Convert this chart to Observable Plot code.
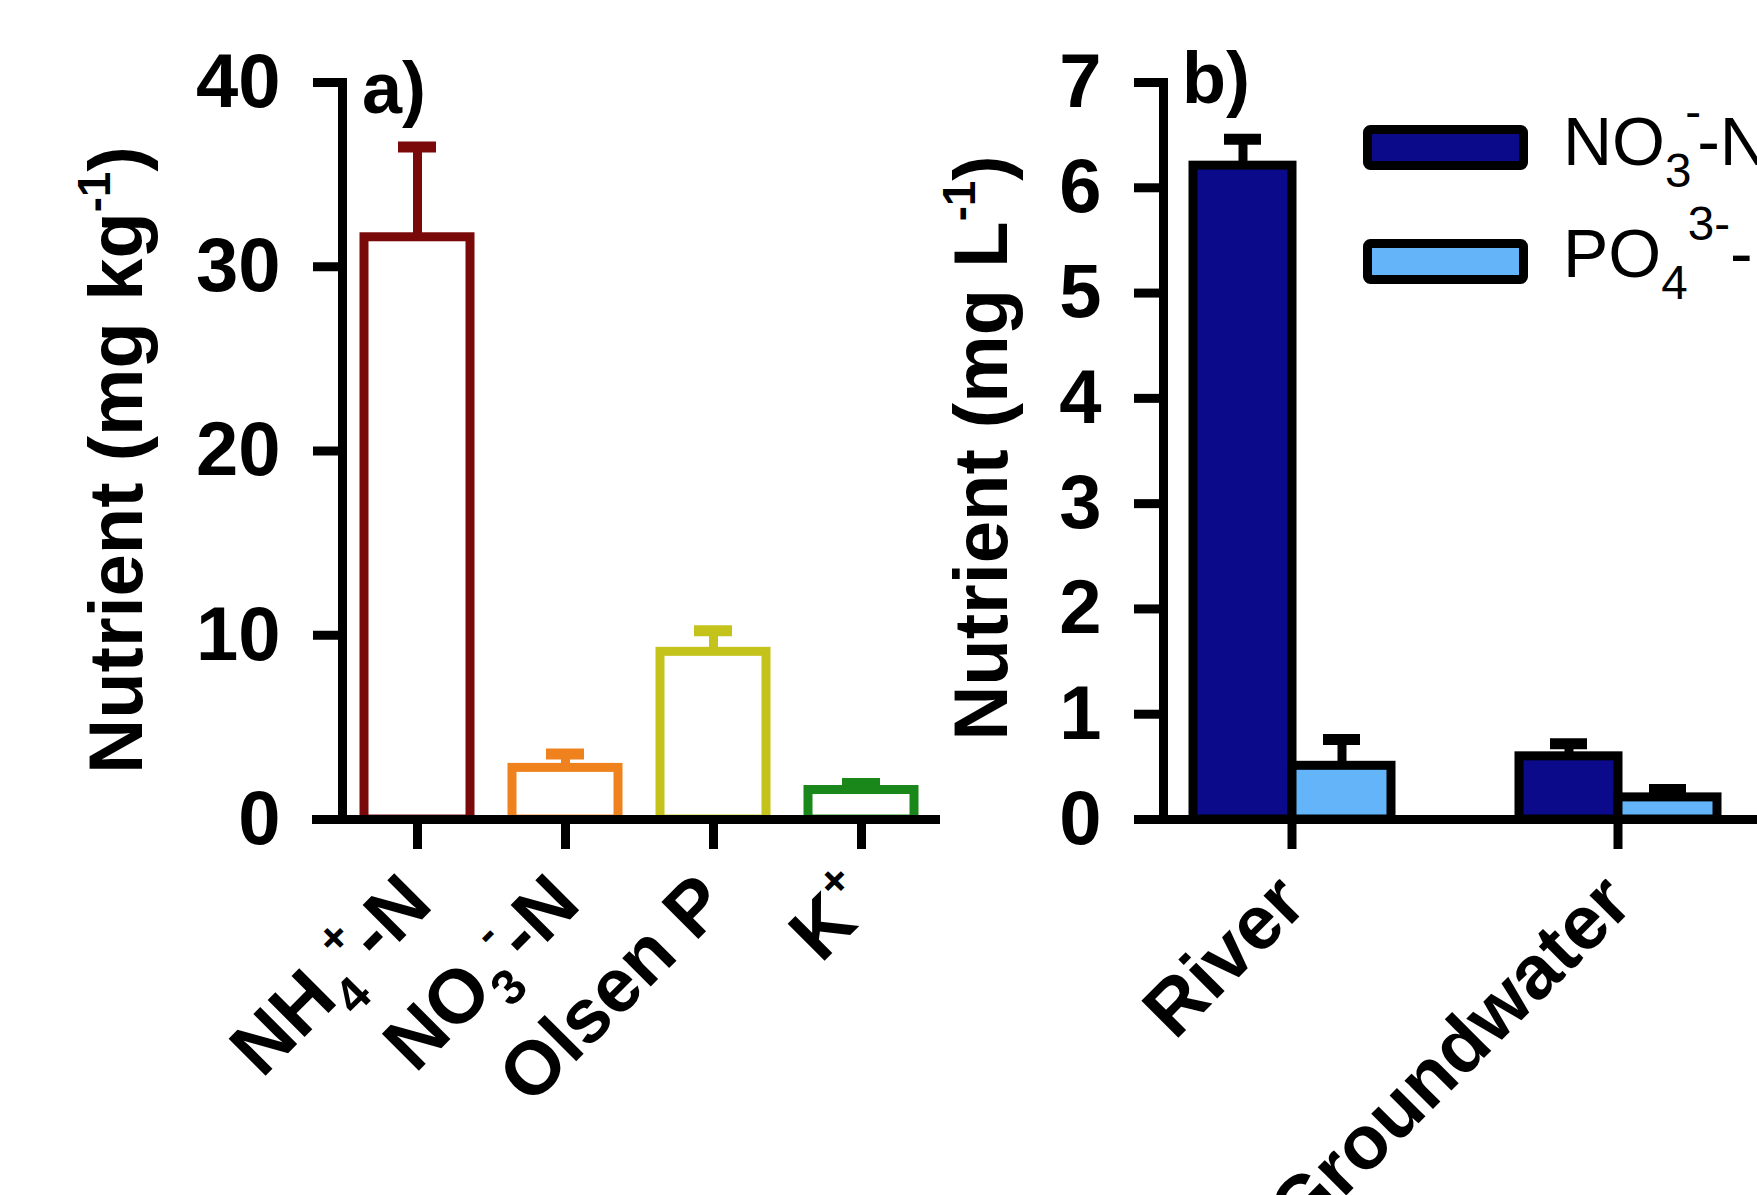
<!DOCTYPE html>
<html>
<head>
<meta charset="utf-8">
<script src="https://cdn.jsdelivr.net/npm/d3@7"></script>
<script src="https://cdn.jsdelivr.net/npm/@observablehq/plot@0.6"></script>
<style>
  html, body { margin: 0; padding: 0; background: #fff; overflow: hidden; }
  #wrap { position: relative; width: 1757px; height: 1195px; overflow: hidden; background: #fff; }
  #wrap svg { position: absolute; top: 0; max-width: none; }
</style>
</head>
<body>
<div id="wrap"></div>
<script>
// ---------- data ----------
const soilCats = ["NH4+-N", "NO3--N", "Olsen P", "K+"];
const soilMean = [31.6, 2.8, 9.1, 1.6];
const soilSE = [4.9, 0.75, 1.15, 0.35];
const soilColors = ["#7a0a0a", "#f0821e", "#c3c31b", "#1a871a"];
const soilTicks = [0, 10, 20, 30, 40];

const waterSites = ["River", "Groundwater"];
const waterSeries = ["NO3--N", "PO43--P"];
const waterNO3 = [6.21, 0.60];
const waterNO3SE = [0.25, 0.12];
const waterPO4 = [0.51, 0.21];
const waterPO4SE = [0.25, 0.075];
const seriesColors = ["#0a0a8a", "#64b4fa"];
const waterTicks = [0, 1, 2, 3, 4, 5, 6, 7];

// text pieces: [string, kind, dx(em)]
const richParts = {
  "NH4+-N": [["NH"], ["4", "sub"], ["+", "sup"], ["-N"]],
  "NO3--N": [["NO"], ["3", "sub"], ["-", "sup"], ["-N"]],
  "K+": [["K"], ["+", "sup"]],
  "Nutrient (mg kg-1)": [["Nutrient (mg kg"], ["-1", "sup"], [")"]],
  "Nutrient (mg L-1)": [["Nutrient (mg L"], ["-1", "sup"], [")"]]
};
const legendParts = {
  "NO3--N": [["NO"], ["3", "sub"], ["-", "sup", -0.09], ["-N", null, -0.06]],
  "PO43--P": [["PO"], ["4", "sub"], ["3-", "sup"], ["-P"]]
};

const FONT = "'Liberation Sans', Arial, Helvetica, sans-serif";

// write rich text (sub/superscripts) into an SVG text element
function richText(el, parts, base, subSize, subShift, supSize, supShift) {
  if (!parts) return;
  const t = d3.select(el);
  t.text(null);
  let cur = 0;
  parts.forEach(([s, kind, dx]) => {
    const target = kind === "sub" ? subShift * base : kind === "sup" ? -supShift * base : 0;
    const ts = t.append("tspan").text(s);
    if (kind === "sub") ts.attr("font-size", subSize * base);
    if (kind === "sup") ts.attr("font-size", supSize * base);
    if (target !== cur) ts.attr("dy", target - cur);
    if (dx) ts.attr("dx", dx * base);
    cur = target;
  });
}

// ---------- panel a ----------
const soil = soilCats.map((c, i) => ({cat: c, mean: soilMean[i], top: soilMean[i] + soilSE[i]}));

const A = Plot.plot({
  width: 960, height: 1195,
  marginLeft: 342, marginRight: 25, marginTop: 82, marginBottom: 376,
  style: {fontFamily: FONT, background: "transparent", overflow: "visible"},
  x: {domain: soilCats, paddingInner: 0.284, paddingOuter: 0.145, axis: null},
  y: {domain: [0, 40], axis: null},
  color: {domain: soilCats, range: soilColors},
  marks: [
    Plot.ruleX(soil, {x: "cat", y1: "mean", y2: "top", stroke: "cat", strokeWidth: 9}),
    Plot.tickY(soil, {x: "cat", y: "top", stroke: "cat", strokeWidth: 11, insetLeft: 34, insetRight: 34}),
    Plot.barY(soil, {x: "cat", y: "mean", fill: "white", stroke: "cat", strokeWidth: 9}),
    Plot.axisY({ticks: soilTicks, tickSize: 29, tickPadding: 33, strokeWidth: 9, fontSize: 76, fontWeight: "bold", label: null, tickFormat: d => String(d), fill: "black"}),
    Plot.axisX({tickSize: 30, tickPadding: 40, tickRotate: -45, strokeWidth: 9, fontSize: 76, fontWeight: "bold", label: null, fill: "black"}),
    Plot.frame({anchor: "left", strokeWidth: 9, stroke: "black"}),
    Plot.ruleY([0], {strokeWidth: 9, stroke: "black", insetLeft: -30, insetRight: -5})
  ]
});
A.style.left = "0px";
document.getElementById("wrap").appendChild(A);

// ---------- panel b ----------
const water = [];
waterSites.forEach((s, i) => {
  water.push({site: s, series: waterSeries[0], mean: waterNO3[i], top: waterNO3[i] + waterNO3SE[i]});
  water.push({site: s, series: waterSeries[1], mean: waterPO4[i], top: waterPO4[i] + waterPO4SE[i]});
});

const B = Plot.plot({
  width: 797, height: 1195,
  marginLeft: 202, marginRight: 10, marginTop: 82, marginBottom: 376,
  style: {fontFamily: FONT, background: "transparent", overflow: "visible"},
  fx: {domain: waterSites, paddingInner: 0.211, paddingOuter: 0, label: null},
  x: {domain: waterSeries, paddingInner: 0, paddingOuter: 0.29, axis: null},
  y: {domain: [0, 7], axis: null},
  color: {domain: waterSeries, range: seriesColors},
  marks: [
    Plot.ruleX(water, {fx: "site", x: "series", y1: "mean", y2: "top", stroke: "black", strokeWidth: 9}),
    Plot.tickY(water, {fx: "site", x: "series", y: "top", stroke: "black", strokeWidth: 11, insetLeft: 31, insetRight: 31}),
    Plot.barY(water, {fx: "site", x: "series", y: "mean", fill: "series", stroke: "black", strokeWidth: 9}),
    Plot.axisY({ticks: waterTicks, tickSize: 29, tickPadding: 33, strokeWidth: 9, fontSize: 76, fontWeight: "bold", label: null, tickFormat: d => String(d), fill: "black"}),
    Plot.axisFx({anchor: "bottom", tickSize: 30, tickPadding: 40, tickRotate: -45, strokeWidth: 9, fontSize: 76, fontWeight: "bold", label: null, fill: "black"}),
    Plot.frame({anchor: "left", strokeWidth: 9, stroke: "black", facetAnchor: "left"}),
    Plot.ruleY([0], {strokeWidth: 9, stroke: "black", insetLeft: -25, insetRight: -69})
  ]
});
B.style.left = "960px";
document.getElementById("wrap").appendChild(B);

// ---------- rich tick labels ----------
[A, B].forEach(svg => {
  d3.select(svg).selectAll('g[aria-label="x-axis tick label"] text, g[aria-label="fx-axis tick label"] text').each(function () {
    richText(this, richParts[this.textContent], 76, 0.65, 0.28, 0.6, 0.45);
  });
});

// ---------- titles, axis labels, legend ----------
function addLabel(svg, x, y, key, size) {
  const t = d3.select(svg).append("text")
    .attr("transform", `translate(${x},${y}) rotate(-90)`)
    .attr("text-anchor", "middle")
    .attr("font-family", FONT).attr("font-weight", "bold").attr("font-size", size)
    .attr("fill", "black");
  richText(t.node(), richParts[key], size, 0.6, 0.3, 0.6, 0.42);
}
addLabel(A, 142, 460, "Nutrient (mg kg-1)", 76);
addLabel(B, 47, 448, "Nutrient (mg L-1)", 76);

d3.select(A).append("text").attr("x", 362).attr("y", 113).attr("text-anchor", "start")
  .attr("font-family", FONT).attr("font-weight", "bold").attr("font-size", 72).attr("fill", "black").text("a)");
d3.select(B).append("text").attr("x", 222).attr("y", 103).attr("text-anchor", "start")
  .attr("font-family", FONT).attr("font-weight", "bold").attr("font-size", 72).attr("fill", "black").text("b)");

const leg = d3.select(B).append("g").attr("aria-label", "legend");
waterSeries.forEach((s, i) => {
  const y0 = 129.5 + i * 114;
  leg.append("rect").attr("x", 407.5).attr("y", y0).attr("width", 156).attr("height", 36)
    .attr("rx", 3).attr("fill", seriesColors[i]).attr("stroke", "black").attr("stroke-width", 9);
  const t = leg.append("text").attr("x", 603).attr("y", 165 + i * 112).attr("text-anchor", "start")
    .attr("font-family", FONT).attr("font-size", 68).attr("fill", "black");
  richText(t.node(), legendParts[s], 68, 0.7, 0.32, 0.7, 0.55);
});
</script>
</body>
</html>
